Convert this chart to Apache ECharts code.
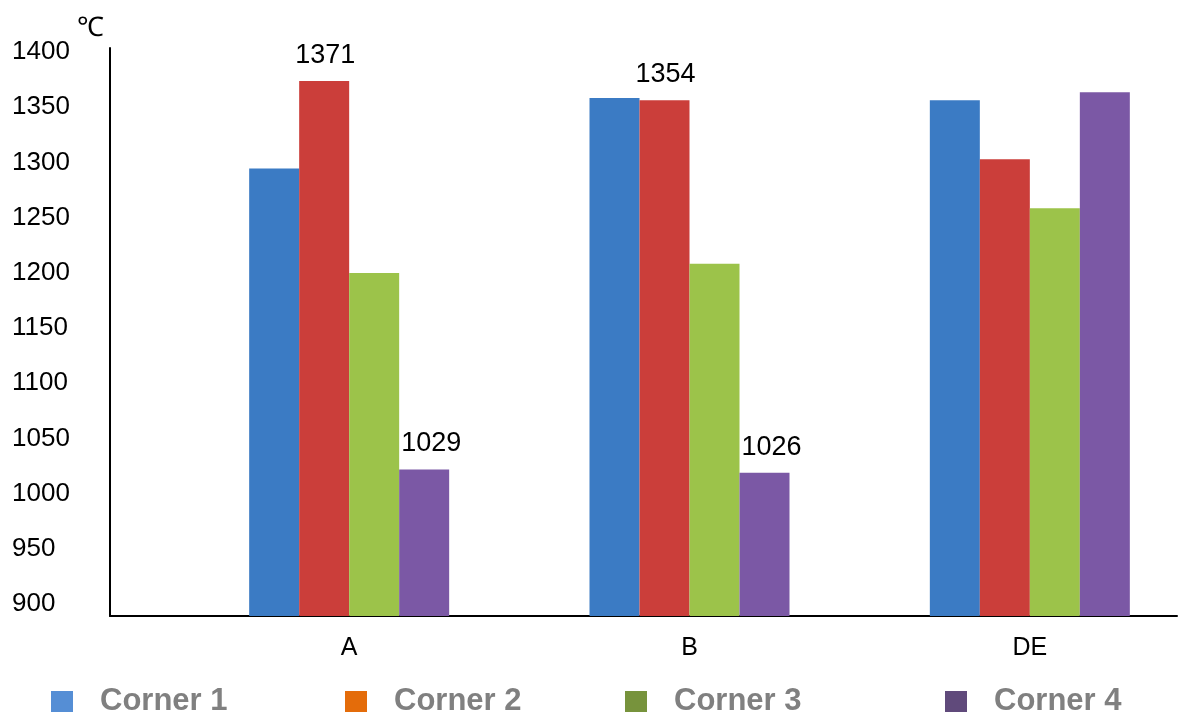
<!DOCTYPE html>
<html>
<head>
<meta charset="utf-8">
<script src="https://cdn.jsdelivr.net/npm/echarts@6/dist/echarts.min.js"></script>
<style>
  html, body { margin: 0; padding: 0; background: #fff; }
  #barChart { width: 1181px; height: 717px; }
</style>
</head>
<body>
<div id="barChart"></div>
<script>
// data
var categories = ["A", "B", "DE"];
var seriesNames = ["Corner 1", "Corner 2", "Corner 3", "Corner 4"];
var corner1 = [1294, 1356, 1354];
var corner2 = [1371, 1354, 1302];
var corner3 = [1202, 1210, 1259];
var corner4 = [1029, 1026, 1361];
// which bars carry a value label
var labelCorner2 = [true, true, false];
var labelCorner4 = [true, true, false];
var yMin = 900, yMax = 1400, yStep = 50;

var font = "'Liberation Sans', Arial, sans-serif";
var barColors = ["#3b7bc4", "#cb3e3a", "#9cc34a", "#7b58a5"];
var legendColors = ["#558ed5", "#e46c0a", "#77933c", "#604a7b"];
var legendLeft = [51, 345, 625, 945];

function withLabels(values, flags, dx) {
  return values.map(function (v, i) {
    if (!flags) return v;
    return {
      value: v,
      label: { show: flags[i], offset: [dx, 0] }
    };
  });
}

var allData = [
  withLabels(corner1, null, 0),
  withLabels(corner2, labelCorner2, 1),
  withLabels(corner3, null, 0),
  withLabels(corner4, labelCorner4, 7)
];

var series = seriesNames.map(function (name, i) {
  return {
    name: name,
    type: "bar",
    xAxisIndex: 0,
    yAxisIndex: 0,
    barWidth: 50,
    barGap: "0%",
    itemStyle: { color: barColors[i] },
    label: {
      show: false,
      position: "top",
      distance: 12,
      fontFamily: font,
      fontSize: 27,
      color: "#000"
    },
    data: allData[i]
  };
});

var legends = seriesNames.map(function (name, i) {
  return {
    left: legendLeft[i],
    top: 686,
    padding: 0,
    selectedMode: false,
    icon: "rect",
    itemWidth: 22,
    itemHeight: 21,
    textStyle: {
      fontFamily: font,
      fontSize: 31,
      fontWeight: "bold",
      color: "#808080",
      padding: [7, 0, 0, 22]
    },
    data: [{ name: name, itemStyle: { color: legendColors[i] } }]
  };
});

var chart = echarts.init(document.getElementById("barChart"));
chart.setOption({
  backgroundColor: "#fff",
  animation: false,
  title: {
    text: "℃",
    left: 72,
    top: 10,
    textStyle: { fontFamily: font, fontSize: 27, fontWeight: "normal", color: "#000" }
  },
  legend: legends,
  grid: [
    // bars: category bands of ~340px, the last one running past the right edge
    { left: 179, right: -19, top: 48, bottom: 101, outerBoundsMode: "none", containLabel: false },
    { left: 110, right: 4, top: 48, bottom: 101, outerBoundsMode: "none" },  // axis lines
    { left: 110, right: 4, top: 52, bottom: 113, outerBoundsMode: "none" }   // y tick labels
  ],
  xAxis: [
    {
      gridIndex: 0,
      type: "category",
      data: categories,
      axisLine: { show: false },
      axisTick: { show: false },
      axisLabel: { margin: 20, fontFamily: font, fontSize: 25, color: "#000" }
    },
    {
      gridIndex: 1,
      type: "value",
      min: 0,
      max: 1,
      axisLine: { show: true, onZero: false, lineStyle: { color: "#000", width: 2 } },
      axisTick: { show: false },
      axisLabel: { show: false },
      splitLine: { show: false }
    },
    {
      gridIndex: 2,
      type: "value",
      show: false
    }
  ],
  yAxis: [
    {
      gridIndex: 0,
      type: "value",
      min: yMin,
      max: yMax,
      show: false
    },
    {
      gridIndex: 1,
      type: "value",
      min: yMin,
      max: yMax,
      axisLine: { show: true, onZero: false, lineStyle: { color: "#000", width: 2 } },
      axisTick: { show: false },
      axisLabel: { show: false },
      splitLine: { show: false }
    },
    {
      gridIndex: 2,
      type: "value",
      min: yMin,
      max: yMax,
      interval: yStep,
      axisLine: { show: false },
      axisTick: { show: false },
      splitLine: { show: false },
      axisLabel: {
        align: "left",
        margin: 98,
        fontFamily: font,
        fontSize: 26,
        color: "#000",
        formatter: function (v) { return String(v); }
      }
    }
  ],
  series: series
});
</script>
</body>
</html>
